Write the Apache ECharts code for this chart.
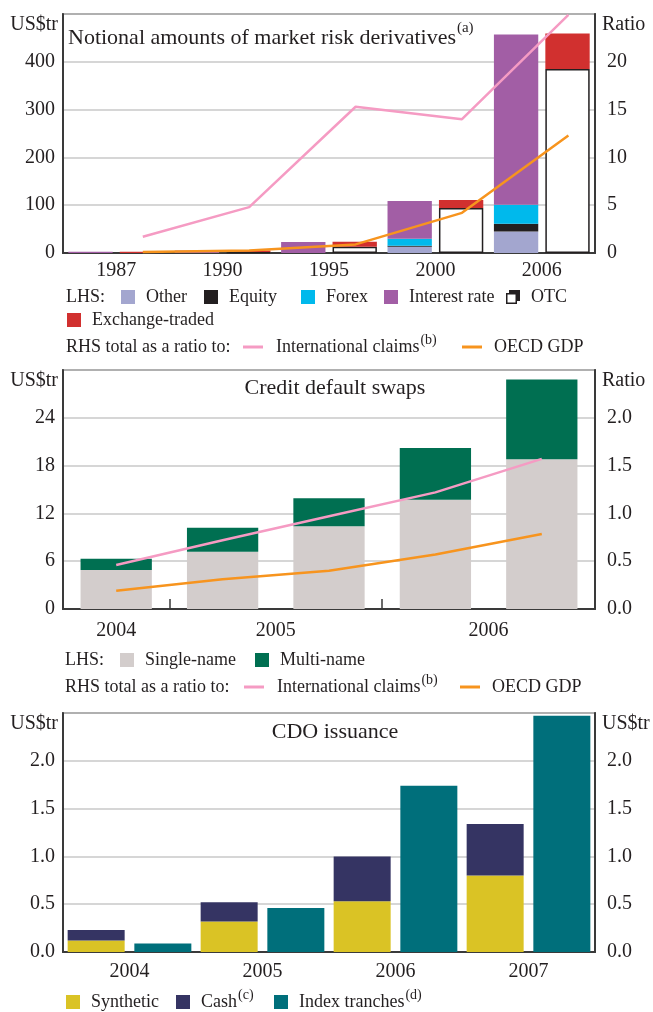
<!DOCTYPE html>
<html>
<head>
<meta charset="utf-8">
<script src="https://cdn.jsdelivr.net/npm/echarts@6/dist/echarts.min.js"></script>
<style>
html, body { margin: 0; padding: 0; background: #fff; }
#chart { width: 653px; height: 1012px; }
</style>
</head>
<body>
<div id="chart"></div>
<script>
// panel 1: notional amounts of market risk derivatives (US$tr) and ratios
const derivYears = ['1987', '1990', '1995', '2000', '2006'];
const derivOther = [0, 0, 0, 13, 45];
const derivEquity = [0, 0, 0, 2, 16];
const derivForex = [0, 0, 0, 15, 40];
const derivInterest = [2.5, 5, 23, 79, 356];
const derivOtc = [null, 2, 13, 94, 385];
const derivExchange = [2.5, 3, 10.5, 17, 74];
const derivClaimsRatio = [1.7, 4.8, 15.3, 14.0, 24.9];
const derivGdpRatio = [0.1, 0.25, 0.9, 4.2, 12.3];

// panel 2: credit default swaps (US$tr) and ratios
const cdsPeriods = ['Dec 2004', 'Jun 2005', 'Dec 2005', 'Jun 2006', 'Dec 2006'];
const cdsSingle = [4.9, 7.2, 10.4, 13.7, 18.8];
const cdsMulti = [1.4, 3.0, 3.5, 6.5, 10.0];
const cdsClaimsRatio = [0.46, 0.72, 0.97, 1.22, 1.57];
const cdsGdpRatio = [0.19, 0.31, 0.40, 0.57, 0.785];

// panel 3: CDO issuance (US$tr)
const cdoYears = ['2004', '2005', '2006', '2007'];
const cdoSynthetic = [0.12, 0.32, 0.53, 0.80];
const cdoCash = [0.11, 0.20, 0.47, 0.54];
const cdoIndex = [0.09, 0.46, 1.74, 2.47];

const FONT = '"Liberation Serif", "Times New Roman", serif';
const INK = '#231f20';
const AXIS = '#3a3a3a';
const GRIDLINE = '#c9c9c9';
const PINK = '#f59bc3';
const ORANGE = '#f7941e';

const notes = { 'International claims': '(b)', 'Cash': '(c)', 'Index tranches': '(d)' };
const sup = { fontFamily: FONT, fontSize: 14, color: INK, padding: [0, 0, 14, 1] };

// CDS year labels sit over the bars of that year, ticks mark year changes
const cdsYearOf = cdsPeriods.map(p => p.slice(-4));
const cdsYears = [...new Set(cdsYearOf)];
const cdsYearCentres = cdsYears.map(y => (cdsYearOf.indexOf(y) + cdsYearOf.lastIndexOf(y) + 1) / 2);
const cdsYearBreaks = cdsYearOf.map((y, i) => (i > 0 && y !== cdsYearOf[i - 1] ? i : null)).filter(v => v !== null);

const chart = echarts.init(document.getElementById('chart'));

// one legend per entry so each sits where the original puts it; cy = row centre
function legendItem(name, left, cy, textGap, more) {
  return Object.assign({
    data: [name], left: left, top: cy - 14, padding: 0, icon: 'rect',
    itemWidth: 14, itemHeight: 14, selectedMode: false,
    textStyle: { fontFamily: FONT, fontSize: 18, lineHeight: 28, color: INK, padding: [0, 0, 0, textGap], rich: { sup: sup } },
    formatter: n => n + (notes[n] ? '{sup|' + notes[n] + '}' : '')
  }, more || {});
}
const dash = { itemWidth: 20, itemHeight: 3 };

function label(text, left, cy) {
  return { type: 'text', left: left, top: cy - 9, style: { text: text, font: '18px ' + FONT, fill: INK } };
}

const tickStyle = { inside: true, length: 10, lineStyle: { color: AXIS, width: 1.5 } };
const axisLine = { show: true, lineStyle: { color: AXIS, width: 2 } };
const labelText = { fontFamily: FONT, fontSize: 20, color: INK };
const titleText = { fontFamily: FONT, fontSize: 22, fontWeight: 'normal', color: INK };

function yAxisFor(grid, side, name, max, step, fmt) {
  return {
    gridIndex: grid, type: 'value', position: side, min: 0, max: max, interval: step,
    name: name, nameLocation: 'end', nameGap: -11,
    nameTextStyle: Object.assign({}, labelText, {
      align: side === 'left' ? 'right' : 'left', verticalAlign: 'middle',
      padding: side === 'left' ? [0, 5, 0, 0] : [0, 0, 0, 7]
    }),
    axisLine: axisLine, axisTick: { show: false },
    axisLabel: Object.assign({}, labelText, { showMaxLabel: false, margin: side === 'left' ? 8 : 12, formatter: fmt }),
    splitLine: { show: side === 'left', lineStyle: { color: GRIDLINE, width: 1.5 } }
  };
}
const oneDp = v => v.toFixed(1);

const option = {
  animation: false,
  backgroundColor: '#fff',
  grid: [
    { left: 63, right: 58, top: 14, height: 239, show: true, borderColor: AXIS, borderWidth: 1.5 },
    { left: 63, right: 58, top: 370, height: 239, show: true, borderColor: AXIS, borderWidth: 1.5 },
    { left: 63, right: 58, top: 713, height: 239, show: true, borderColor: AXIS, borderWidth: 1.5 }
  ],
  title: [
    {
      text: 'Notional amounts of market risk derivatives{sup|(a)}', left: 68, top: 21, padding: 0,
      textStyle: Object.assign({}, titleText, {
        rich: { sup: { fontFamily: FONT, fontSize: 15, color: INK, padding: [0, 0, 20, 1] } }
      })
    },
    { text: 'Credit default swaps', left: 335, textAlign: 'center', top: 377, padding: 0, textStyle: titleText },
    { text: 'CDO issuance', left: 335, textAlign: 'center', top: 721, padding: 0, textStyle: titleText }
  ],
  xAxis: [
    {
      gridIndex: 0, type: 'category', data: derivYears, axisLine: axisLine,
      axisTick: tickStyle, axisLabel: Object.assign({}, labelText, { margin: 8 })
    },
    // half-category slots so the ratio lines pass through the right-hand bars
    { gridIndex: 0, type: 'category', data: derivYears.flatMap(y => [y + ' by risk', y + ' by market']), show: false },
    {
      gridIndex: 1, type: 'category', data: cdsPeriods, axisLine: axisLine,
      axisTick: { show: false }, axisLabel: { show: false }
    },
    {
      gridIndex: 1, type: 'value', position: 'bottom', min: 0, max: cdsPeriods.length,
      axisLine: { show: false }, splitLine: { show: false },
      axisTick: Object.assign({ customValues: cdsYearBreaks }, tickStyle),
      axisLabel: Object.assign({}, labelText, {
        margin: 12, customValues: cdsYearCentres,
        formatter: v => cdsYears[cdsYearCentres.indexOf(v)] || ''
      })
    },
    {
      gridIndex: 2, type: 'category', data: cdoYears, axisLine: axisLine,
      axisTick: tickStyle, axisLabel: Object.assign({}, labelText, { margin: 10 })
    }
  ],
  yAxis: [
    yAxisFor(0, 'left', 'US$tr', 500, 100),
    yAxisFor(0, 'right', 'Ratio', 25, 5),
    yAxisFor(1, 'left', 'US$tr', 30, 6),
    yAxisFor(1, 'right', 'Ratio', 2.5, 0.5, oneDp),
    yAxisFor(2, 'left', 'US$tr', 2.5, 0.5, oneDp),
    yAxisFor(2, 'right', 'US$tr', 2.5, 0.5, oneDp)
  ],
  legend: [
    legendItem('Other', 121, 297, 6),
    legendItem('Equity', 204, 297, 6),
    legendItem('Forex', 301, 297, 6),
    legendItem('Interest rate', 384, 297, 6),
    legendItem({ name: 'OTC', icon: 'path://M0 3H11V14H0Z M1.5 4.5V12.5H9.5V4.5Z M3 0H14V11H11V3H3Z', itemStyle: { color: INK, borderWidth: 0 } }, 506, 297, 6),
    legendItem('Exchange-traded', 67, 320, 6),
    legendItem('International claims', 243, 347, 8, dash),
    legendItem('OECD GDP', 462, 347, 7, dash),
    legendItem('Single-name', 120, 660, 6),
    legendItem('Multi-name', 255, 660, 6),
    legendItem('International claims', 244, 687, 8, dash),
    legendItem('OECD GDP', 460, 687, 7, dash),
    legendItem('Synthetic', 66, 1002, 6),
    legendItem('Cash', 176, 1002, 6),
    legendItem('Index tranches', 274, 1002, 6)
  ],
  graphic: [
    label('LHS:', 66, 297),
    label('RHS total as a ratio to:', 66, 347),
    label('LHS:', 65, 660),
    label('RHS total as a ratio to:', 65, 687)
  ],
  series: [
    // panel 1 bars
    { name: 'Other', type: 'bar', xAxisIndex: 0, yAxisIndex: 0, stack: 'risk', data: derivOther, itemStyle: { color: '#a3a6cf' }, barCategoryGap: '10%', barGap: '16%' },
    { name: 'Equity', type: 'bar', xAxisIndex: 0, yAxisIndex: 0, stack: 'risk', data: derivEquity, itemStyle: { color: '#231f20' }, barCategoryGap: '10%', barGap: '16%' },
    { name: 'Forex', type: 'bar', xAxisIndex: 0, yAxisIndex: 0, stack: 'risk', data: derivForex, itemStyle: { color: '#00b9ec' }, barCategoryGap: '10%', barGap: '16%' },
    { name: 'Interest rate', type: 'bar', xAxisIndex: 0, yAxisIndex: 0, stack: 'risk', data: derivInterest, itemStyle: { color: '#a25ea5' }, barCategoryGap: '10%', barGap: '16%' },
    { name: 'OTC', type: 'bar', xAxisIndex: 0, yAxisIndex: 0, stack: 'market', data: derivOtc, itemStyle: { color: '#fff', borderColor: INK, borderWidth: 1.5 }, barCategoryGap: '10%', barGap: '16%' },
    { name: 'Exchange-traded', type: 'bar', xAxisIndex: 0, yAxisIndex: 0, stack: 'market', data: derivExchange, itemStyle: { color: '#d1302f' }, barCategoryGap: '10%', barGap: '16%' },
    // panel 1 lines
    { name: 'International claims', type: 'line', xAxisIndex: 1, yAxisIndex: 1, data: derivClaimsRatio.flatMap(v => [null, v]), connectNulls: true, symbol: 'none', color: PINK, lineStyle: { color: PINK, width: 2.5 }, z: 5 },
    { name: 'OECD GDP', type: 'line', xAxisIndex: 1, yAxisIndex: 1, data: derivGdpRatio.flatMap(v => [null, v]), connectNulls: true, symbol: 'none', color: ORANGE, lineStyle: { color: ORANGE, width: 2.5 }, z: 5 },
    // panel 2
    { name: 'Single-name', type: 'bar', xAxisIndex: 2, yAxisIndex: 2, stack: 'cds', data: cdsSingle, itemStyle: { color: '#d3cdcc' }, barCategoryGap: '33%' },
    { name: 'Multi-name', type: 'bar', xAxisIndex: 2, yAxisIndex: 2, stack: 'cds', data: cdsMulti, itemStyle: { color: '#006f51' }, barCategoryGap: '33%' },
    { name: 'International claims', type: 'line', xAxisIndex: 2, yAxisIndex: 3, data: cdsClaimsRatio, symbol: 'none', color: PINK, lineStyle: { color: PINK, width: 2.5 }, z: 5 },
    { name: 'OECD GDP', type: 'line', xAxisIndex: 2, yAxisIndex: 3, data: cdsGdpRatio, symbol: 'none', color: ORANGE, lineStyle: { color: ORANGE, width: 2.5 }, z: 5 },
    // panel 3
    { name: 'Synthetic', type: 'bar', xAxisIndex: 4, yAxisIndex: 4, stack: 'cdo', data: cdoSynthetic, itemStyle: { color: '#dac325' }, barCategoryGap: '7%', barGap: '17%' },
    { name: 'Cash', type: 'bar', xAxisIndex: 4, yAxisIndex: 4, stack: 'cdo', data: cdoCash, itemStyle: { color: '#353463' }, barCategoryGap: '7%', barGap: '17%' },
    { name: 'Index tranches', type: 'bar', xAxisIndex: 4, yAxisIndex: 4, stack: 'index', data: cdoIndex, itemStyle: { color: '#006f7b' }, barCategoryGap: '7%', barGap: '17%' }
  ]
};

chart.setOption(option);
</script>
</body>
</html>
